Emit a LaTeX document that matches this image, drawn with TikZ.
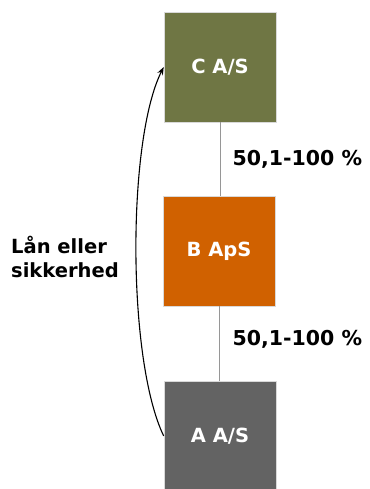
\documentclass[tikz,border=0pt]{standalone}
\usepackage{fontspec}
\setmainfont{DejaVu Sans}
\usepackage{tikz}
\usetikzlibrary{positioning, arrows.meta, calc}

\definecolor{olivebox}{RGB}{111,118,68}
\definecolor{orangebox}{RGB}{208,97,0}
\definecolor{greybox}{RGB}{99,99,99}
\definecolor{linkgrey}{RGB}{150,150,150}

\begin{document}
\begin{tikzpicture}[
    x=1pt, y=1pt,
    company/.style={rectangle, draw=white!85!black, line width=0.6pt,
                    minimum width=112pt, minimum height=110pt, text=white,
                    font=\fontsize{19.5}{23}\selectfont\bfseries},
    share/.style={anchor=west, font=\fontsize{20.5}{24}\selectfont\bfseries},
    link/.style={draw=linkgrey, line width=1pt},
    arrow/.style={-{Stealth[length=8pt, width=6pt]}, line width=1.1pt}
]
    \useasboundingbox (0,0) rectangle (369,489);

    % Companies
    \node[company, fill=olivebox] (C) at (220, 422) {C A/S};
    \node[company, fill=orangebox] (B) at (219, 238) {B ApS};
    \node[company, fill=greybox] (A) at (220, 53) {A A/S};

    % Ownership links
    \draw[link] (C.south) -- (C.south |- B.north);
    \draw[link] (B.south) -- (B.south |- A.north);

    \node[share] (sharecb) at (229, 330) {50,1-100 \%};
    \node[share] (shareba) at (229, 150) {50,1-100 \%};

    % Loan from A up to C
    \draw[arrow] (A.west) .. controls (127, 129) and (127, 349) .. (C.west);
    \node[font=\fontsize{19.5}{24}\selectfont\bfseries, align=left] (loan) at (65, 232) {Lån eller\\sikkerhed};

\end{tikzpicture}
\end{document}
